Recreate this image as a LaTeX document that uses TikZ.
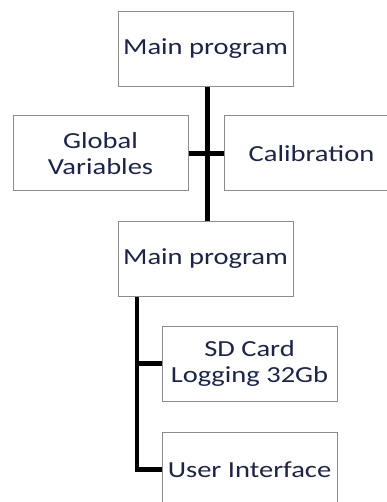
\documentclass[tikz,border=0pt]{standalone}
\usepackage{fontspec}
\setmainfont[FakeStretch=1.24]{Carlito}
\definecolor{txtblue}{RGB}{28,36,72}
\definecolor{boxgray}{RGB}{140,140,140}
\tikzset{
  block/.style={draw=boxgray, line width=1pt, fill=white, minimum width=175pt, minimum height=75pt,
    inner sep=0pt, align=center, text=txtblue, font=\fontsize{23}{26}\selectfont},
  trunk/.style={line width=4.5pt}
}
\begin{document}
\begin{tikzpicture}[x=1pt, y=-1pt]
    \useasboundingbox (0,0) rectangle (387,502);

    \node[block] (main1) at (205.5,49) {Main program};
    \node[block] (glob) at (100.5,153.5) {Global\\Variables};
    \node[block] (calib) at (311.5,153.5) {Calibration};
    \node[block] (main2) at (205.5,259) {Main program};
    \node[block] (sd) at (249.5,363.5) {SD Card\\Logging 32Gb};
    \node[block] (ui) at (249.5,469.5) {User Interface};
    \coordinate (split) at (207.5,153.5);
    \coordinate (top2) at (137,296.5);
    \coordinate (bot2) at (137,469.5);


    \draw[trunk] (main1.south -| split)--(main2.north -| split);
    \draw[trunk] (glob.east)--(calib.west);
    \draw[trunk] (top2)--(bot2)--(ui.west);
    \draw[trunk] (top2 |- sd.west)--(sd.west);


  \end{tikzpicture}
\end{document}
